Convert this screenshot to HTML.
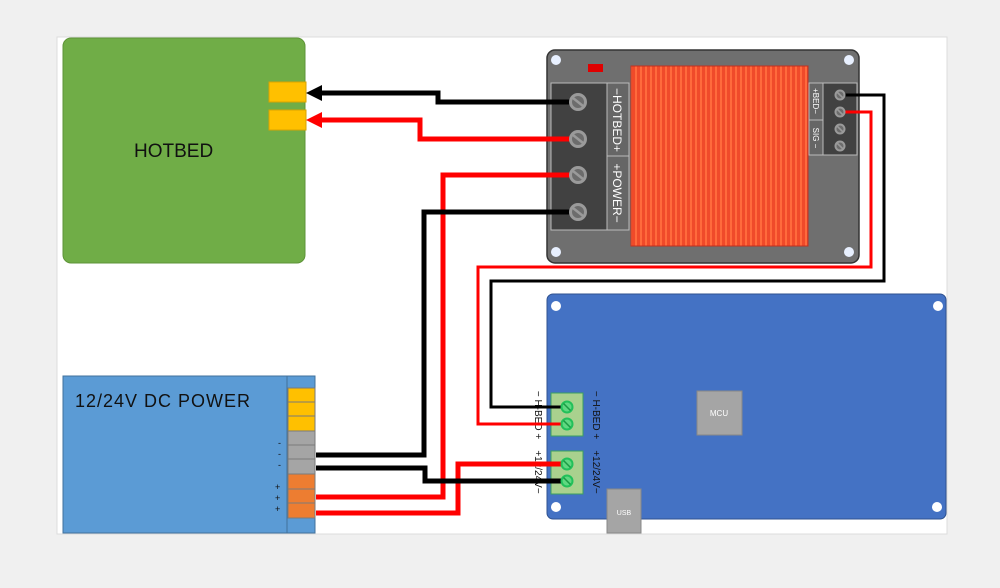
<!DOCTYPE html>
<html><head><style>
body{margin:0;background:#f0f0f0;}
svg{display:block;}
text{font-family:"Liberation Sans",sans-serif;}
</style></head><body>
<svg width="1000" height="588" viewBox="0 0 1000 588" xmlns="http://www.w3.org/2000/svg">
<rect x="0" y="0" width="1000" height="588" fill="#f0f0f0"/>
<rect x="57" y="37" width="890" height="497" fill="#ffffff" stroke="#dcdcdc"/>
<defs>
<pattern id="fins" width="5" height="10" patternUnits="userSpaceOnUse">
<rect width="5" height="10" fill="#f04a2a"/><rect width="2" height="10" fill="#ff6a3c"/>
</pattern>
<g id="scr"><circle r="9" fill="#9a9a9a"/><circle r="6" fill="#6c6c6c"/><line x1="-5" y1="-4" x2="5" y2="4" stroke="#9a9a9a" stroke-width="2.5"/></g>
<g id="sscr"><circle r="5.5" fill="#9a9a9a"/><circle r="3.5" fill="#6c6c6c"/><line x1="-3" y1="-3" x2="3" y2="3" stroke="#9a9a9a" stroke-width="1.6"/></g>
<g id="gscr"><circle r="6.5" fill="#22c05a"/><circle r="4.5" fill="#5fd880"/><line x1="-3.5" y1="-3.5" x2="3.5" y2="3.5" stroke="#1a9a44" stroke-width="1.5"/></g>
</defs>

<!-- HOTBED -->
<rect x="63" y="38" width="242" height="225" rx="8" fill="#70ad47" stroke="#5e9438"/>
<rect x="269" y="82" width="37" height="20" fill="#ffc000" stroke="#d9a300"/>
<rect x="269" y="110" width="37" height="20" fill="#ffc000" stroke="#d9a300"/>
<text x="134" y="157" font-size="19" fill="#111">HOTBED</text>

<!-- MOSFET board -->
<rect x="547" y="50" width="312" height="213" rx="8" fill="#6f6f6f" stroke="#333" stroke-width="1.5"/>
<circle cx="556" cy="60" r="5" fill="#e8f0ff"/><circle cx="849" cy="60" r="5" fill="#e8f0ff"/>
<circle cx="556" cy="252" r="5" fill="#e8f0ff"/><circle cx="849" cy="252" r="5" fill="#e8f0ff"/>
<rect x="588" y="64" width="15" height="8" fill="#e00000"/>
<rect x="551" y="83" width="56" height="147" fill="#414141" stroke="#bbb"/>
<rect x="607" y="83" width="22" height="73" fill="#666" stroke="#bbb"/>
<rect x="607" y="156" width="22" height="74" fill="#666" stroke="#bbb"/>
<text transform="translate(613,120) rotate(90)" text-anchor="middle" font-size="12" fill="#fff">−HOTBED+</text>
<text transform="translate(613,193) rotate(90)" text-anchor="middle" font-size="12" fill="#fff">+POWER−</text>
<rect x="631" y="66" width="177" height="180" fill="url(#fins)" stroke="#c03020"/>
<rect x="809" y="83" width="14" height="37" fill="#666" stroke="#bbb"/>
<rect x="809" y="120" width="14" height="35" fill="#666" stroke="#bbb"/>
<text transform="translate(813,101) rotate(90)" text-anchor="middle" font-size="8" fill="#fff">+BED−</text>
<text transform="translate(813,138) rotate(90)" text-anchor="middle" font-size="8" fill="#fff">SIG  −</text>
<rect x="823" y="83" width="34" height="72" fill="#414141" stroke="#bbb"/>

<!-- Blue board -->
<rect x="547" y="294" width="399" height="225" rx="6" fill="#4472c4" stroke="#2f528f"/>
<circle cx="556" cy="306" r="5" fill="#fff"/><circle cx="938" cy="306" r="5" fill="#fff"/>
<circle cx="556" cy="507" r="5" fill="#fff"/><circle cx="937" cy="507" r="5" fill="#fff"/>
<rect x="697" y="391" width="45" height="44" fill="#a5a5a5" stroke="#888"/>
<text x="719" y="416" text-anchor="middle" font-size="8" fill="#fff">MCU</text>
<rect x="607" y="489" width="34" height="44" fill="#a5a5a5" stroke="#888"/>
<text x="624" y="515" text-anchor="middle" font-size="7" fill="#fff">USB</text>
<rect x="551" y="393" width="32" height="43" fill="#a9d18e" stroke="#3aa060"/>
<rect x="551" y="451" width="32" height="43" fill="#a9d18e" stroke="#3aa060"/>
<text transform="translate(593,415) rotate(90)" text-anchor="middle" font-size="10" fill="#111">−  H-BED  +</text>
<text transform="translate(593,472) rotate(90)" text-anchor="middle" font-size="10" fill="#111">+12/24V−</text>
<text transform="translate(535,415) rotate(90)" text-anchor="middle" font-size="10" fill="#111">−  H-BED  +</text>
<text transform="translate(535,472) rotate(90)" text-anchor="middle" font-size="10" fill="#111">+12/24V−</text>

<!-- PSU -->
<rect x="63" y="376" width="252" height="157" fill="#5b9bd5" stroke="#41719c"/>
<line x1="287" y1="376" x2="287" y2="533" stroke="#41719c"/>
<text x="75" y="407" font-size="18" fill="#111" letter-spacing="1">12/24V DC POWER</text>
<g stroke="#7a7a7a">
<rect x="288" y="388" width="27" height="14" fill="#ffc000"/>
<rect x="288" y="402" width="27" height="14" fill="#ffc000"/>
<rect x="288" y="416" width="27" height="15" fill="#ffc000"/>
<rect x="288" y="431" width="27" height="14" fill="#a5a5a5"/>
<rect x="288" y="445" width="27" height="14" fill="#a5a5a5"/>
<rect x="288" y="459" width="27" height="15" fill="#a5a5a5"/>
<rect x="288" y="474" width="27" height="15" fill="#ed7d31"/>
<rect x="288" y="489" width="27" height="14" fill="#ed7d31"/>
<rect x="288" y="503" width="27" height="15" fill="#ed7d31"/>
</g>
<text x="278" y="446" font-size="9" fill="#111">-</text>
<text x="278" y="457" font-size="9" fill="#111">-</text>
<text x="278" y="468" font-size="9" fill="#111">-</text>
<text x="275" y="490" font-size="9" fill="#111">+</text>
<text x="275" y="501" font-size="9" fill="#111">+</text>
<text x="275" y="512" font-size="9" fill="#111">+</text>

<!-- wires -->
<g fill="none" stroke-width="5" stroke-linejoin="miter">
<polyline points="577,102 438,102 438,93 318,93" stroke="#000"/>
<polyline points="577,139 420,139 420,120 320,120" stroke="#f00"/>
<polyline points="577,175 443,175 443,497 316,497" stroke="#f00"/>
<polyline points="577,212 424,212 424,455 316,455" stroke="#000"/>
<polyline points="316,513 458,513 458,464 566,464" stroke="#f00"/>
<polyline points="316,468 425,468 425,481 566,481" stroke="#000"/>
</g>
<g fill="none" stroke-width="3">
<polyline points="840,95 884,95 884,281 491,281 491,407 566,407" stroke="#000"/>
<polyline points="840,112 871,112 871,267 478,267 478,424 566,424" stroke="#f00"/>
</g>
<polygon points="306,93 322,85 322,101" fill="#000"/>
<polygon points="306,120 322,112 322,128" fill="#f00"/>

<use href="#scr" x="578" y="102"/><use href="#scr" x="578" y="139"/>
<use href="#scr" x="578" y="175"/><use href="#scr" x="578" y="212"/>
<use href="#sscr" x="840" y="95"/><use href="#sscr" x="840" y="112"/>
<use href="#sscr" x="840" y="129"/><use href="#sscr" x="840" y="146"/>
<use href="#gscr" x="567" y="407"/><use href="#gscr" x="567" y="424"/>
<use href="#gscr" x="567" y="464"/><use href="#gscr" x="567" y="481"/>
</svg>
</body></html>
